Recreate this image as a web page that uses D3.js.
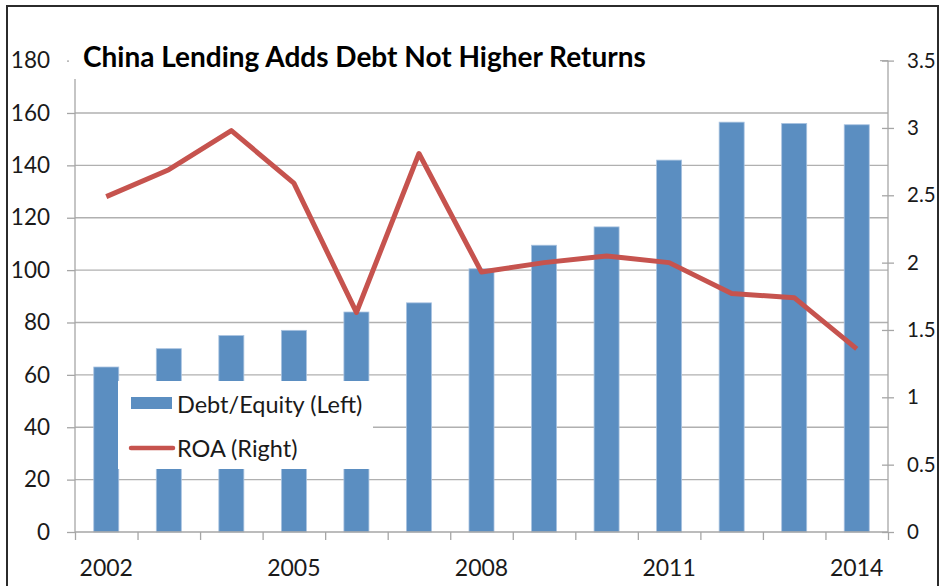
<!DOCTYPE html>
<meta charset="utf-8">
<style>
  body { margin: 0; background: #fff; }
  text { font-family: Lato, "Open Sans", sans-serif; fill: #1a1a1a; }
  .axis path, .axis line { stroke: #a6a6a6; stroke-width: 1.3; }
  .axis text { font-size: 22.5px; fill: #1a1a1a; }
</style>
<body>
<script src="https://d3js.org/d3.v7.min.js"></script>
<script>
// chart data
var years = [2002, 2003, 2004, 2005, 2006, 2007, 2008, 2009, 2010, 2011, 2012, 2013, 2014];
var debtEquity = [63, 70, 75, 77, 84, 87.5, 100.5, 109.5, 116.5, 142, 156.5, 156, 155.5];
var roa = [2.49, 2.69, 2.98, 2.59, 1.63, 2.81, 1.93, 2.0, 2.05, 2.0, 1.77, 1.74, 1.36];
var leftTicks = [0, 20, 40, 60, 80, 100, 120, 140, 160, 180];
var rightTicks = [0, 0.5, 1, 1.5, 2, 2.5, 3, 3.5];
var yearLabels = [2002, 2005, 2008, 2011, 2014];

var W = 940, H = 586;
var plotL = 75, plotR = 888, plotT = 60.6, plotB = 532;

var svg = d3.select("body").append("svg")
    .attr("width", W)
    .attr("height", H);

svg.append("rect").attr("width", W).attr("height", H).attr("fill", "#fff");

// scales
var x = d3.scaleBand().domain(years).range([plotL, plotR])
    .paddingInner(0.6).paddingOuter(0.3);
var xEdge = d3.scaleLinear().domain([0, years.length]).range([plotL, plotR]);
var yL = d3.scaleLinear().domain([0, 180]).range([plotB, plotT]);
var yR = d3.scaleLinear().domain([0, 3.5]).range([plotB, plotT]);

// horizontal grid
svg.append("g")
  .selectAll("line")
  .data(leftTicks.filter(d => d > 0))
  .enter().append("line")
    .attr("x1", plotL).attr("x2", plotR)
    .attr("y1", d => yL(d)).attr("y2", d => yL(d))
    .attr("stroke", "#b0b0b0").attr("stroke-width", 1.3);

// bars
svg.append("g")
  .selectAll("rect")
  .data(years)
  .enter().append("rect")
    .attr("x", d => x(d))
    .attr("width", x.bandwidth())
    .attr("y", (d, i) => yL(debtEquity[i]))
    .attr("height", (d, i) => plotB - yL(debtEquity[i]))
    .attr("fill", "#5b8ec1")
    .attr("stroke", "#a9c3e0").attr("stroke-width", 0.8);

// left axis
var gL = svg.append("g").attr("class", "axis")
    .attr("transform", "translate(" + plotL + ",0)")
    .call(d3.axisLeft(yL).tickValues(leftTicks).tickSize(8).tickPadding(17));
gL.select(".domain").remove();
gL.append("line").attr("x1", 0).attr("x2", 0).attr("y1", plotT).attr("y2", plotB)
    .attr("stroke", "#a6a6a6").attr("stroke-width", 1.3);

// right axis
var gR = svg.append("g").attr("class", "axis")
    .attr("transform", "translate(" + plotR + ",0)")
    .call(d3.axisRight(yR).tickValues(rightTicks).tickSize(6).tickPadding(13)
      .tickFormat(d3.format("")));
gR.select(".domain").remove();
gR.selectAll(".tick line").attr("x1", -6);
gR.selectAll(".tick text").style("font-size", "20.5px");
gR.append("line").attr("x1", 0).attr("x2", 0).attr("y1", plotT).attr("y2", plotB)
    .attr("stroke", "#a6a6a6").attr("stroke-width", 1.3);

// bottom axis: ticks on category edges, labels every third year
var gB = svg.append("g").attr("class", "axis")
    .attr("transform", "translate(0," + plotB + ")")
    .call(d3.axisBottom(xEdge).tickValues(d3.range(years.length + 1)).tickSize(8).tickFormat(""));
gB.select(".domain").attr("d", "M" + plotL + ",0H" + plotR);

svg.append("g")
  .selectAll("text")
  .data(yearLabels)
  .enter().append("text")
    .attr("x", d => x(d) + x.bandwidth() / 2)
    .attr("y", 576)
    .attr("text-anchor", "middle")
    .style("font-size", "23px")
    .text(d => d);

// ROA line
var line = d3.line()
    .x((d, i) => x(years[i]) + x.bandwidth() / 2)
    .y(d => yR(d));
svg.append("path")
    .datum(roa)
    .attr("d", line)
    .attr("fill", "none")
    .attr("stroke", "#c6534e")
    .attr("stroke-width", 5)
    .attr("stroke-linejoin", "round");

// title
svg.append("rect").attr("x", 69).attr("y", 28).attr("width", 811).attr("height", 51).attr("fill", "#fff");
svg.append("text")
    .attr("x", 83).attr("y", 67)
    .style("font-size", "28px").style("font-weight", "bold").style("fill", "#000")
    .text("China Lending Adds Debt Not Higher Returns");

// legend
var lg = svg.append("g");
lg.append("rect").attr("x", 118).attr("y", 381).attr("width", 255).attr("height", 88).attr("fill", "#fff");
lg.append("rect").attr("x", 131).attr("y", 397).attr("width", 41).attr("height", 12).attr("fill", "#5b8ec1");
lg.append("line").attr("x1", 131).attr("x2", 173).attr("y1", 448).attr("y2", 448)
    .attr("stroke", "#c6534e").attr("stroke-width", 4.5).attr("stroke-linecap", "round");
lg.append("text").attr("x", 177).attr("y", 413).style("font-size", "23.5px").text("Debt/Equity (Left)");
lg.append("text").attr("x", 177).attr("y", 457).style("font-size", "23.5px").text("ROA (Right)");

// frame
svg.append("rect").attr("x", 7).attr("y", 6).attr("width", 931).attr("height", 620)
    .attr("fill", "none").attr("stroke", "#2b2b2b").attr("stroke-width", 2);
</script>
</body>
